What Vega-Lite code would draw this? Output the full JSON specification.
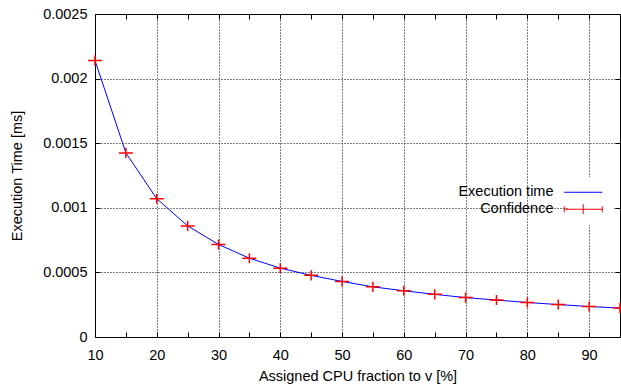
{
  "$schema": "https://vega.github.io/schema/vega-lite/v6.json",
  "width": 525,
  "height": 323,
  "autosize": {"type": "none"},
  "padding": {"left": 95, "top": 14, "right": 1, "bottom": 50},
  "background": "white",
  "config": {
    "view": {"stroke": "black", "strokeWidth": 1},
    "font": "Liberation Sans",
    "axis": {
      "labelFont": "Liberation Sans", "labelFontSize": 14.5, "labelColor": "black",
      "titleFont": "Liberation Sans", "titleFontSize": 14.5, "titleFontWeight": "normal", "titleColor": "black",
      "domain": false, "tickColor": "black", "tickWidth": 1,
      "gridColor": "black", "gridDash": [1, 2], "gridOpacity": 1, "gridWidth": 1
    }
  },
  "data": {"values": [
    {"x": 10, "y": 0.00214},
    {"x": 15, "y": 0.001425},
    {"x": 20, "y": 0.00107},
    {"x": 25, "y": 0.00086},
    {"x": 30, "y": 0.000716},
    {"x": 35, "y": 0.00061},
    {"x": 40, "y": 0.000533},
    {"x": 45, "y": 0.000477},
    {"x": 50, "y": 0.00043},
    {"x": 55, "y": 0.000388},
    {"x": 60, "y": 0.000358},
    {"x": 65, "y": 0.00033},
    {"x": 70, "y": 0.000305},
    {"x": 75, "y": 0.000286},
    {"x": 80, "y": 0.000267},
    {"x": 85, "y": 0.000251},
    {"x": 90, "y": 0.000236},
    {"x": 95, "y": 0.000224}
  ]},
  "layer": [
    {
      "mark": {"type": "line", "strokeWidth": 1},
      "encoding": {
        "x": {"field": "x", "type": "quantitative",
          "scale": {"domain": [10, 95], "nice": false, "zero": false},
          "axis": {
            "values": [10, 15, 20, 25, 30, 35, 40, 45, 50, 55, 60, 65, 70, 75, 80, 85, 90],
            "labelExpr": "datum.value % 10 === 0 ? datum.label : ''",
            "labelOverlap": false, "labelFlush": false,
            "tickSize": -5, "labelPadding": 16,
            "title": "Assigned CPU fraction to v [%]", "titlePadding": 8,
            "gridOpacity": {"condition": {"test": "datum.value % 10 !== 0", "value": 0}, "value": 1}
          }
        },
        "y": {"field": "y", "type": "quantitative",
          "scale": {"domain": [0, 0.0025], "nice": false},
          "axis": {
            "values": [0, 0.0005, 0.001, 0.0015, 0.002, 0.0025],
            "labelExpr": "datum.value === 0 ? '0' : format(datum.value, '~g')",
            "labelOverlap": false, "labelFlush": false,
            "tickSize": -5, "labelPadding": 13,
            "title": "Execution Time [ms]", "titlePadding": 18
          }
        },
        "color": {"datum": "Execution time", "type": "nominal",
          "scale": {"domain": ["Execution time", "Confidence"], "range": ["blue", "red"]},
          "legend": {
            "orient": "none", "legendX": 473, "legendY": 163,
            "title": null, "fillColor": "white", "padding": 8,
            "labelAlign": "right", "labelOffset": -37,
            "symbolSize": 100, "labelFont": "Liberation Sans", "labelFontSize": 14.5, "labelColor": "black",
            "rowPadding": 2, "symbolStrokeWidth": 1,
            "encode": {"symbols": {"update": {
              "shape": {"signal": "datum.value === 'Confidence' ? 'M-3.8,0H3.8M0,-1V1M-3.8,-0.6V0.6M3.8,-0.6V0.6' : 'M-3.8,0H3.8'"},
              "fill": {"value": "transparent"},
              "stroke": {"signal": "datum.value === 'Confidence' ? 'red' : 'blue'"},
              "strokeWidth": {"value": 1}
            }}}
          }
        }
      }
    },
    {
      "mark": {"type": "point", "shape": "M-1,0H1M0,-0.72V0.72", "size": 196, "filled": false, "strokeWidth": 1.5, "opacity": 1},
      "encoding": {
        "x": {"field": "x", "type": "quantitative", "axis": null},
        "y": {"field": "y", "type": "quantitative", "axis": null},
        "color": {"datum": "Confidence", "type": "nominal"}
      }
    },
    {
      "mark": {"type": "line", "opacity": 0},
      "encoding": {
        "x": {"field": "x", "type": "quantitative",
          "axis": {"orient": "top", "values": [10, 15, 20, 25, 30, 35, 40, 45, 50, 55, 60, 65, 70, 75, 80, 85, 90],
            "labels": false, "grid": false, "title": null, "tickSize": -5}},
        "y": {"field": "y", "type": "quantitative",
          "axis": {"orient": "right", "values": [0, 0.0005, 0.001, 0.0015, 0.002, 0.0025],
            "labels": false, "grid": false, "title": null, "tickSize": -5}}
      }
    }
  ],
  "resolve": {"axis": {"x": "independent", "y": "independent"}}
}
